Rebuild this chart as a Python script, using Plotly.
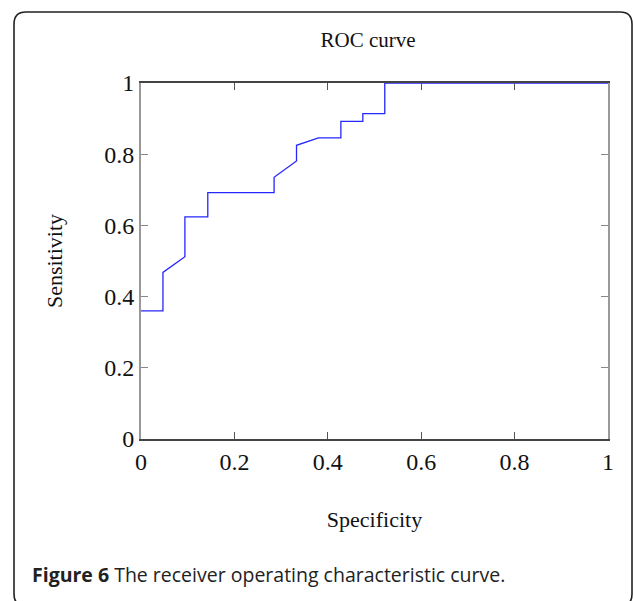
import plotly.graph_objects as go

# ROC curve data
specificity = [0.0, 0.047, 0.047, 0.094, 0.094, 0.143, 0.143, 0.285, 0.285,
               0.333, 0.333, 0.380, 0.428, 0.428, 0.475, 0.475, 0.522, 0.522, 1.0]
sensitivity = [0.36, 0.36, 0.468, 0.512, 0.624, 0.624, 0.692, 0.692, 0.735,
               0.781, 0.825, 0.846, 0.846, 0.892, 0.892, 0.914, 0.914, 1.0, 1.0]

tick_vals = [0, 0.2, 0.4, 0.6, 0.8, 1]
tick_text = ["0", "0.2", "0.4", "0.6", "0.8", "1"]

W, H = 633, 601
L, R, T, B = 141, 25, 83, 162
pw, ph = W - L - R, H - T - B


def px(x):
    return (x - L) / pw


def py(y):
    return (H - B - y) / ph


serif = "Liberation Serif, Times New Roman, serif"

fig = go.Figure()
fig.add_trace(go.Scatter(
    x=specificity, y=sensitivity, mode="lines",
    line=dict(color="#2626ff", width=1.3),
    showlegend=False, hoverinfo="x+y",
))

axis_common = dict(
    range=[0, 1], tickvals=tick_vals, ticktext=tick_text,
    ticks="inside", ticklen=7, tickwidth=1,
    showline=True, mirror="allticks", showgrid=False, zeroline=False,
    tickfont=dict(family=serif, size=24, color="#111"),
)

fig.update_xaxes(**axis_common, linecolor="#444", linewidth=2, tickcolor="#555",
                 title=dict(text="Specificity", font=dict(family=serif, size=22, color="#111"),
                            standoff=38))
fig.update_yaxes(**axis_common, linecolor="#999", linewidth=2, tickcolor="#888",
                 title=dict(text="Sensitivity", font=dict(family=serif, size=22, color="#111"),
                            standoff=36))

# rounded frame around figure
x0, x1 = px(14), px(632)
y0, y1 = py(606), py(12)
rx, ry = 12 / pw, 12 / ph
path = (f"M {x0},{y0 + ry} L {x0},{y1 - ry} Q {x0},{y1} {x0 + rx},{y1} "
        f"L {x1 - rx},{y1} Q {x1},{y1} {x1},{y1 - ry} "
        f"L {x1},{y0 + ry} Q {x1},{y0} {x1 - rx},{y0} "
        f"L {x0 + rx},{y0} Q {x0},{y0} {x0},{y0 + ry} Z")
fig.add_shape(type="path", path=path, xref="paper", yref="paper",
              line=dict(color="#222", width=1.6), fillcolor="rgba(0,0,0,0)", layer="below")

fig.add_annotation(
    text="<b>Figure 6</b> The receiver operating characteristic curve.",
    xref="paper", yref="paper", x=px(30), y=py(574), xanchor="left", yanchor="middle",
    showarrow=False, font=dict(family="Open Sans, Noto Sans, sans-serif", size=19.5, color="#222"),
)

fig.update_layout(
    width=W, height=H,
    margin=dict(l=L, r=R, t=T, b=B, pad=0),
    paper_bgcolor="white", plot_bgcolor="white",
    title=dict(text="ROC curve", x=368 / W, xref="container", xanchor="center",
               y=1 - 40 / H, yref="container", yanchor="middle",
               font=dict(family=serif, size=21, color="#111")),
)

fig.write_html("out.html")
